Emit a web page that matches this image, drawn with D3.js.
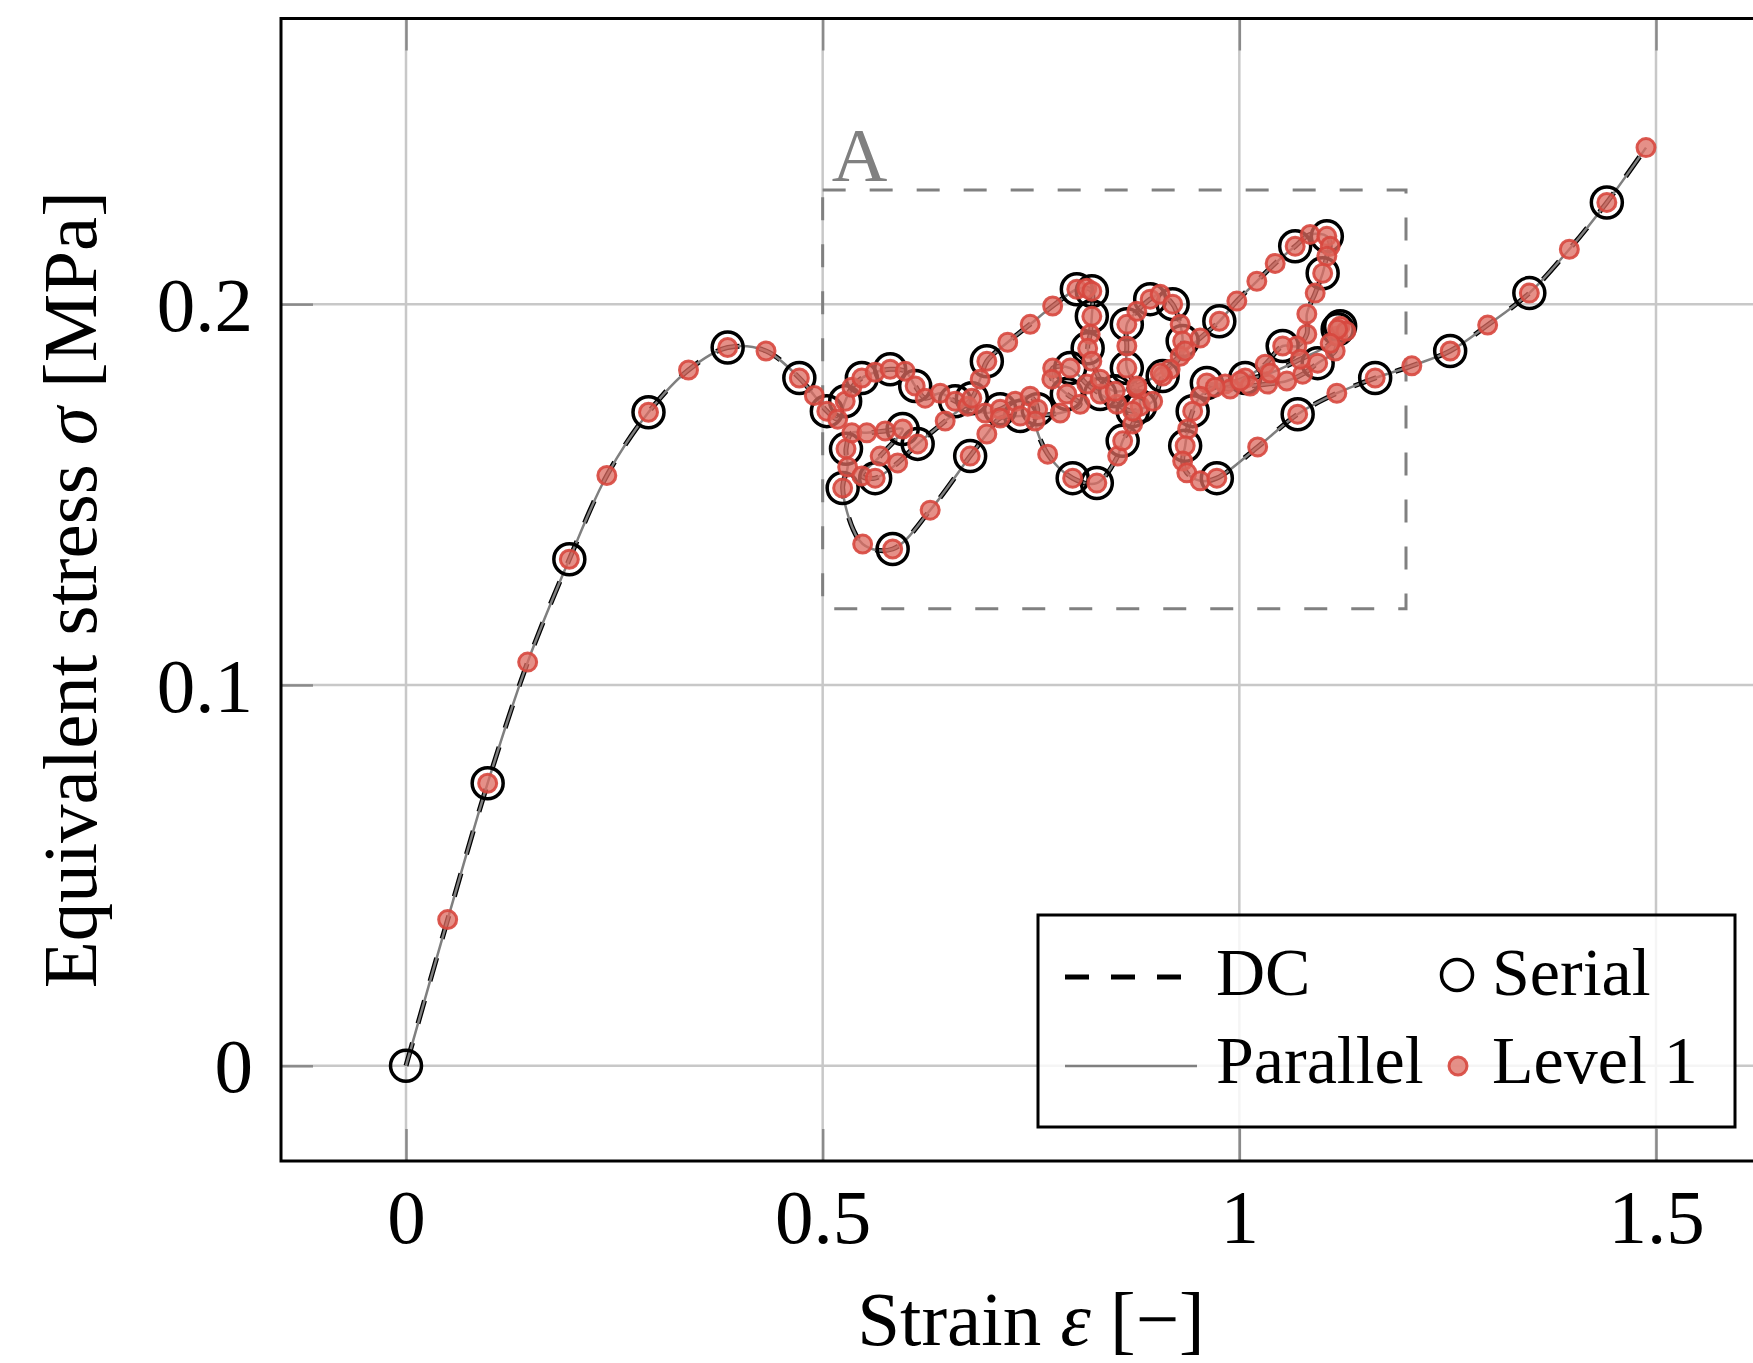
<!DOCTYPE html>
<html>
<head>
<meta charset="utf-8">
<script src="https://cdn.jsdelivr.net/npm/d3@7"></script>
<style>
  body { margin: 0; background: #fff; }
  svg text { font-family: "Liberation Serif", "DejaVu Serif", serif; }
</style>
</head>
<body>
<svg id="chart" width="1753" height="1363"></svg>
<script>
// start of the path (no Level 1 marker there)
const origin = [0, 0];

// Level 1 points [strain, stress], in path order
const level1 = [
  [0.050, 0.0384], [0.098, 0.0742], [0.146, 0.1060], [0.196, 0.1330], [0.241, 0.1550],
  [0.291, 0.1716], [0.339, 0.1827], [0.386, 0.1886], [0.432, 0.1877], [0.472, 0.1806],
  [0.490, 0.1760], [0.505, 0.1719], [0.518, 0.1698], [0.527, 0.1745], [0.535, 0.1782],
  [0.547, 0.1806], [0.563, 0.1821], [0.581, 0.1829], [0.599, 0.1824], [0.611, 0.1785],
  [0.623, 0.1753], [0.641, 0.1766], [0.659, 0.1745], [0.674, 0.1732], [0.695, 0.1714],
  [0.713, 0.1724], [0.731, 0.1745], [0.749, 0.1758], [0.758, 0.1724], [0.755, 0.1693],
  [0.770, 0.1606], [0.800, 0.1543], [0.829, 0.1530], [0.854, 0.1601], [0.860, 0.1641],
  [0.872, 0.1685], [0.881, 0.1732], [0.877, 0.1779], [0.865, 0.1832], [0.865, 0.1890],
  [0.865, 0.1947], [0.877, 0.1981], [0.893, 0.2013], [0.905, 0.2026], [0.920, 0.2000],
  [0.929, 0.1947], [0.932, 0.1903], [0.929, 0.1863], [0.917, 0.1829], [0.908, 0.1811],
  [0.896, 0.1745], [0.872, 0.1719], [0.853, 0.1737], [0.833, 0.1764], [0.817, 0.1790],
  [0.797, 0.1832], [0.776, 0.1832], [0.775, 0.1803], [0.793, 0.1764], [0.809, 0.1737],
  [0.785, 0.1714], [0.737, 0.1706], [0.713, 0.1701], [0.697, 0.1659], [0.677, 0.1601],
  [0.629, 0.1459], [0.584, 0.1357], [0.548, 0.1370], [0.524, 0.1517], [0.530, 0.1572],
  [0.528, 0.1620], [0.535, 0.1662], [0.553, 0.1662], [0.575, 0.1667], [0.596, 0.1672],
  [0.569, 0.1601], [0.547, 0.1549], [0.563, 0.1543], [0.590, 0.1583], [0.614, 0.1633],
  [0.647, 0.1693], [0.679, 0.1753], [0.689, 0.1803], [0.697, 0.1850], [0.722, 0.1900],
  [0.749, 0.1947], [0.776, 0.1995], [0.805, 0.2039], [0.817, 0.2042], [0.823, 0.2034],
  [0.823, 0.1968], [0.821, 0.1921], [0.818, 0.1884], [0.823, 0.1850], [0.833, 0.1803],
  [0.851, 0.1771], [0.877, 0.1785], [0.905, 0.1819], [0.935, 0.1877], [0.953, 0.1911],
  [0.976, 0.1955], [0.997, 0.2008], [1.021, 0.2060], [1.043, 0.2107], [1.067, 0.2152],
  [1.085, 0.2183], [1.105, 0.2178], [1.109, 0.2152], [1.105, 0.2126], [1.100, 0.2081],
  [1.091, 0.2029], [1.081, 0.1974], [1.081, 0.1921], [1.069, 0.1890], [1.052, 0.1890],
  [1.031, 0.1842], [1.007, 0.1806], [0.983, 0.1790], [0.961, 0.1793], [0.989, 0.1777],
  [1.013, 0.1785], [1.034, 0.1790], [1.057, 0.1798], [1.076, 0.1816], [1.094, 0.1845],
  [1.115, 0.1877], [1.118, 0.1916], [1.121, 0.1942], [1.128, 0.1929], [1.118, 0.1934],
  [1.109, 0.1897], [1.073, 0.1855], [1.037, 0.1819], [1.001, 0.1798], [0.971, 0.1782],
  [0.953, 0.1758], [0.944, 0.1719], [0.938, 0.1672], [0.935, 0.1628], [0.932, 0.1588],
  [0.937, 0.1557], [0.953, 0.1536], [0.973, 0.1543], [1.022, 0.1625], [1.070, 0.1711],
  [1.117, 0.1766], [1.163, 0.1806], [1.207, 0.1838], [1.253, 0.1877], [1.298, 0.1945],
  [1.348, 0.2029], [1.396, 0.2144], [1.441, 0.2267], [1.488, 0.2411]
];

// Serial points [strain, stress]
const serial = [
  [0, 0], [0.098, 0.0742], [0.196, 0.1330], [0.291, 0.1716], [0.386, 0.1886], [0.472, 0.1806],
  [0.505, 0.1719], [0.527, 0.1745], [0.547, 0.1806], [0.581, 0.1829], [0.611, 0.1785],
  [0.659, 0.1745], [0.713, 0.1724], [0.758, 0.1724], [0.800, 0.1543], [0.829, 0.1530],
  [0.860, 0.1641], [0.881, 0.1732], [0.865, 0.1832], [0.865, 0.1947], [0.893, 0.2013],
  [0.920, 0.2000], [0.932, 0.1903], [0.908, 0.1811], [0.872, 0.1719], [0.833, 0.1764],
  [0.797, 0.1832], [0.793, 0.1764], [0.737, 0.1706], [0.677, 0.1601], [0.584, 0.1357],
  [0.524, 0.1517], [0.528, 0.1620], [0.596, 0.1672], [0.563, 0.1543], [0.614, 0.1633],
  [0.679, 0.1753], [0.697, 0.1850], [0.805, 0.2039], [0.823, 0.2034], [0.823, 0.1968],
  [0.818, 0.1884], [0.851, 0.1771], [0.976, 0.1955], [1.067, 0.2152], [1.105, 0.2178],
  [1.100, 0.2081], [1.052, 0.1890], [1.007, 0.1806], [0.961, 0.1793], [1.094, 0.1845],
  [1.121, 0.1942], [1.118, 0.1934], [0.944, 0.1719], [0.935, 0.1628], [0.973, 0.1543],
  [1.070, 0.1711], [1.163, 0.1806], [1.253, 0.1877], [1.348, 0.2029], [1.441, 0.2267]
];

const xTicks = [0, 0.5, 1, 1.5];
const yTicks = [0, 0.1, 0.2];
const regionStrain = [0.5, 1.2];
const regionStress = [0.12, 0.23];
const regionLabel = "A";

const svg = d3.select("#chart");

const plotLeft = 281, plotTop = 18.5, plotBottom = 1161, plotRight = 1781;
const x = d3.scaleLinear().domain([-0.15, 1.65]).range([plotLeft, plotRight]);
const y = d3.scaleLinear().domain([-0.025, 0.275]).range([plotBottom, plotTop]);

// grid
svg.append("g").selectAll("line").data(xTicks).join("line")
  .attr("x1", d => x(d)).attr("x2", d => x(d))
  .attr("y1", plotTop).attr("y2", plotBottom)
  .attr("stroke", "#c8c8c8").attr("stroke-width", 2.5);
svg.append("g").selectAll("line").data(yTicks).join("line")
  .attr("x1", plotLeft).attr("x2", plotRight)
  .attr("y1", d => y(d)).attr("y2", d => y(d))
  .attr("stroke", "#c8c8c8").attr("stroke-width", 2.5);

// axes with inward ticks
function styleAxis(g) {
  g.select(".domain").remove();
  g.selectAll(".tick line").attr("stroke", "#8a8a8a").attr("stroke-width", 2.5);
  g.selectAll(".tick text").attr("font-size", 77).attr("fill", "#000")
    .style("font-family", '"Liberation Serif", "DejaVu Serif", serif');
}
svg.append("g").attr("transform", `translate(0,${plotBottom})`)
  .call(d3.axisBottom(x).tickValues(xTicks).tickSize(-32).tickPadding(27).tickFormat(d3.format("~g")))
  .call(styleAxis);
svg.append("g").attr("transform", `translate(0,${plotTop})`)
  .call(d3.axisTop(x).tickValues(xTicks).tickSize(-32).tickFormat(""))
  .call(styleAxis);
svg.append("g").attr("transform", `translate(${plotLeft},0)`)
  .call(d3.axisLeft(y).tickValues(yTicks).tickSize(-32).tickPadding(28).tickFormat(d3.format("~g")))
  .call(styleAxis)
  .selectAll(".tick text").attr("dy", "0.34em");

// region A
svg.append("rect")
  .attr("x", x(regionStrain[0])).attr("y", y(regionStress[1]))
  .attr("width", x(regionStrain[1]) - x(regionStrain[0]))
  .attr("height", y(regionStress[0]) - y(regionStress[1]))
  .attr("fill", "none").attr("stroke", "#808080")
  .attr("stroke-width", 3).attr("stroke-dasharray", "23,24");
svg.append("text")
  .attr("x", x(regionStrain[0]) + 9).attr("y", y(regionStress[1]) - 9)
  .attr("font-size", 77).attr("fill", "#808080").text(regionLabel);

// curves
const pathPts = [origin, ...level1];
const line = d3.line().x(d => x(d[0])).y(d => y(d[1])).curve(d3.curveCatmullRom.alpha(0.5));

svg.append("path").datum(pathPts).attr("d", line)
  .attr("fill", "none").attr("stroke", "#000").attr("stroke-width", 5)
  .attr("stroke-dasharray", "24,20");
svg.append("path").datum(pathPts).attr("d", line)
  .attr("fill", "none").attr("stroke", "#7f7f7f").attr("stroke-width", 2.5);

svg.append("g").selectAll("circle").data(serial).join("circle")
  .attr("cx", d => x(d[0])).attr("cy", d => y(d[1])).attr("r", 15.5)
  .attr("fill", "none").attr("stroke", "#000").attr("stroke-width", 3.5);

svg.append("g").selectAll("circle").data(level1).join("circle")
  .attr("cx", d => x(d[0])).attr("cy", d => y(d[1])).attr("r", 9)
  .attr("fill", "#dc6b60").attr("fill-opacity", 0.75)
  .attr("stroke", "#d7473e").attr("stroke-width", 3).attr("stroke-opacity", 0.9);

// frame
svg.append("rect").attr("x", plotLeft).attr("y", plotTop)
  .attr("width", plotRight - plotLeft).attr("height", plotBottom - plotTop)
  .attr("fill", "none").attr("stroke", "#000").attr("stroke-width", 3);

// axis titles
const xt = svg.append("text").attr("x", (plotLeft + plotRight) / 2).attr("y", 1345)
  .attr("text-anchor", "middle").attr("font-size", 77);
xt.append("tspan").text("Strain ");
xt.append("tspan").attr("font-style", "italic").text("ε");
xt.append("tspan").text(" [−]");

const yt = svg.append("text").attr("transform", `translate(96,${(plotTop + plotBottom) / 2}) rotate(-90)`)
  .attr("text-anchor", "middle").attr("font-size", 77);
yt.append("tspan").text("Equivalent stress ");
yt.append("tspan").attr("font-style", "italic").text("σ");
yt.append("tspan").text(" [MPa]");

// legend
const lg = svg.append("g");
lg.append("rect").attr("x", 1038).attr("y", 915).attr("width", 697).attr("height", 212)
  .attr("fill", "#fff").attr("fill-opacity", 0.82).attr("stroke", "#000").attr("stroke-width", 3);
lg.append("line").attr("x1", 1065).attr("x2", 1182).attr("y1", 977).attr("y2", 977)
  .attr("stroke", "#000").attr("stroke-width", 5).attr("stroke-dasharray", "24,22");
lg.append("line").attr("x1", 1065).attr("x2", 1197).attr("y1", 1066).attr("y2", 1066)
  .attr("stroke", "#7f7f7f").attr("stroke-width", 2.5);
lg.append("circle").attr("cx", 1457).attr("cy", 975).attr("r", 15.5)
  .attr("fill", "none").attr("stroke", "#000").attr("stroke-width", 3.5);
lg.append("circle").attr("cx", 1458).attr("cy", 1066).attr("r", 9)
  .attr("fill", "#dc6b60").attr("fill-opacity", 0.75)
  .attr("stroke", "#d7473e").attr("stroke-width", 3).attr("stroke-opacity", 0.9);
[["DC", 1216, 995], ["Serial", 1492, 995], ["Parallel", 1216, 1083], ["Level 1", 1492, 1083]]
  .forEach(([t, tx, ty]) => lg.append("text").attr("x", tx).attr("y", ty).attr("font-size", 68).text(t));
</script>
</body>
</html>
